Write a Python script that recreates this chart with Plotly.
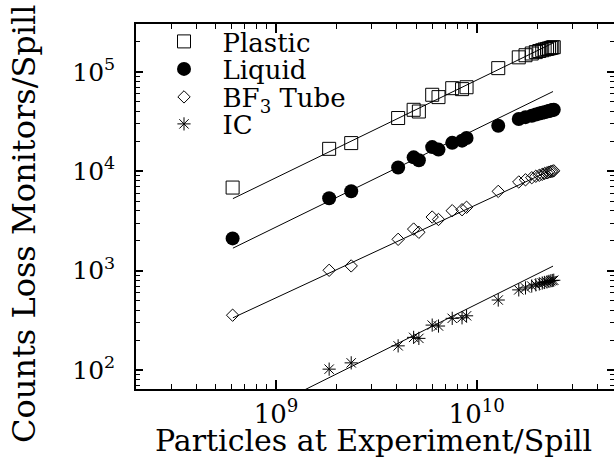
import math
import plotly.graph_objects as go

# ---------------- data ----------------
particles = [6.08e8, 1.84e9, 2.37e9, 4.06e9, 4.85e9, 5.15e9, 6.0e9, 6.45e9, 7.55e9, 8.45e9, 8.9e9, 1.28e10,
             1.62e10, 1.75e10, 1.88e10, 1.97e10, 2.05e10, 2.12e10, 2.18e10, 2.24e10, 2.29e10, 2.34e10, 2.38e10, 2.42e10]
plastic = [6850, 1.68e4, 1.92e4, 3.43e4, 4.15e4, 3.99e4, 5.88e4, 5.57e4, 6.85e4, 6.7e4, 7.0e4, 1.09e5,
           1.40e5, 1.47e5, 1.53e5, 1.58e5, 1.62e5, 1.65e5, 1.68e5, 1.70e5, 1.72e5, 1.74e5, 1.76e5, 1.77e5]
liquid = [2110, 5350, 6300, 1.09e4, 1.38e4, 1.29e4, 1.75e4, 1.65e4, 1.93e4, 2.03e4, 2.16e4, 2.87e4,
          3.35e4, 3.5e4, 3.62e4, 3.72e4, 3.8e4, 3.87e4, 3.93e4, 3.98e4, 4.03e4, 4.08e4, 4.12e4, 4.15e4]
bf3 = [356, 1008, 1115, 2065, 2620, 2430, 3460, 3270, 4010, 4100, 4340, 6270,
       7.8e3, 8.2e3, 8.6e3, 8.9e3, 9.1e3, 9.3e3, 9.5e3, 9.65e3, 9.8e3, 9.9e3, 1.0e4, 1.01e4]
ic = [None, 102, 118, 175, 213, 208, 283, 277, 331, 335, 351, 506,
      640, 670, 700, 720, 735, 750, 760, 770, 780, 790, 795, 800]

# fitted power-law lines (end points)
fit_x = [6.1e8, 2.4e10]
fit_plastic = [5300, 1.95e5]
fit_liquid = [1683, 6.34e4]
fit_bf3 = [335, 1.05e4]
fit_ic = [27.6, 1110]

series_names = ["Plastic", "Liquid", "BF<sub>3</sub> Tube", "IC"]

x_tickvals = [1e9, 1e10]
x_ticktext = ["10<sup>9</sup>", "10<sup>10</sup>"]
y_tickvals = [1e2, 1e3, 1e4, 1e5]
y_ticktext = ["10<sup>2</sup>", "10<sup>3</sup>", "10<sup>4</sup>", "10<sup>5</sup>"]

x_range = [2.007e8, 4.83e10]
y_range = [64.4, 3.03e5]

x_minor = [m * 10 ** e for e in (8, 9, 10) for m in range(2, 10)]
y_minor = [m * 10 ** e for e in (1, 2, 3, 4, 5) for m in range(2, 10)]

FONT = "DejaVu Serif"

fig = go.Figure()

markers = [
    dict(symbol="square-open", size=13, color="black", line=dict(color="black", width=1)),
    dict(symbol="circle", size=14, color="black", line=dict(color="black", width=0)),
    dict(symbol="diamond-open", size=9.5, color="black", line=dict(color="black", width=1)),
    dict(symbol="asterisk-open", size=11, color="black", line=dict(color="black", width=1)),
]
values = [plastic, liquid, bf3, ic]
fits = [fit_plastic, fit_liquid, fit_bf3, fit_ic]
legend_ids = ["legend", "legend2", "legend3", "legend4"]

for name, vals, fit, mk, lg in zip(series_names, values, fits, markers, legend_ids):
    fig.add_trace(go.Scatter(x=fit_x, y=fit, mode="lines",
                             line=dict(color="black", width=1), showlegend=False,
                             hoverinfo="skip"))
    fig.add_trace(go.Scatter(x=particles, y=vals, mode="markers", name=name,
                             marker=mk, legend=lg))

axis_common = dict(
    type="log", showgrid=False, zeroline=False, showline=True, linecolor="black",
    linewidth=1.5, mirror="ticks", ticks="inside", tickcolor="black", tickwidth=1.5,
    tickmode="array",
)

fig.update_xaxes(
    **axis_common,
    range=[math.log10(x_range[0]), math.log10(x_range[1])],
    tickvals=x_tickvals, ticktext=x_ticktext, ticklen=9,
    tickfont=dict(family=FONT, size=26, color="black"),
    ticklabelstandoff=1,
    minor=dict(tickmode="array", tickvals=x_minor, ticks="inside", ticklen=5,
               tickcolor="black", tickwidth=1, showgrid=False),
)
fig.update_yaxes(
    **axis_common,
    range=[math.log10(y_range[0]), math.log10(y_range[1])],
    tickvals=y_tickvals, ticktext=y_ticktext, ticklen=7,
    tickfont=dict(family=FONT, size=25, color="black"),
    ticklabelstandoff=14,
    minor=dict(tickmode="array", tickvals=y_minor, ticks="inside", ticklen=4,
               tickcolor="black", tickwidth=1, showgrid=False),
)

L, R, T, B = 136, 0, 24, 70
W, H = 614, 459
pw, ph = W - L - R, H - T - B


def px_to_paper(xp, yp):
    return (xp - L) / pw, (H - B - yp) / ph


legend_rows = [41.5, 69, 97, 124]
legend_style = dict(font=dict(family=FONT, size=26, color="black"), bgcolor="rgba(0,0,0,0)",
                    borderwidth=0, itemwidth=67, xanchor="left", yanchor="middle")
layout_legends = {}
for lg, row in zip(legend_ids, legend_rows):
    lx, ly = px_to_paper(145.5, row)
    layout_legends[lg] = dict(x=lx, y=ly, **legend_style)

xt_x, xt_y = px_to_paper(373, 440)
yt_x, yt_y = px_to_paper(24, 224)

fig.update_layout(
    width=W, height=H,
    margin=dict(l=L, r=R, t=T, b=B, autoexpand=False),
    paper_bgcolor="white", plot_bgcolor="white",
    showlegend=True,
    **layout_legends,
    annotations=[
        dict(text="Particles at Experiment/Spill", xref="paper", yref="paper",
             x=xt_x, y=xt_y, xanchor="center", yanchor="middle", showarrow=False,
             font=dict(family=FONT, size=30, color="black")),
        dict(text="Counts Loss Monitors/Spill", xref="paper", yref="paper",
             x=yt_x, y=yt_y, xanchor="center", yanchor="middle", showarrow=False,
             textangle=-90, font=dict(family=FONT, size=32, color="black")),
    ],
)

fig.write_html("out.html", config={"displayModeBar": False},
               post_script="document.body.style.margin='0';document.body.style.overflow='hidden';")
